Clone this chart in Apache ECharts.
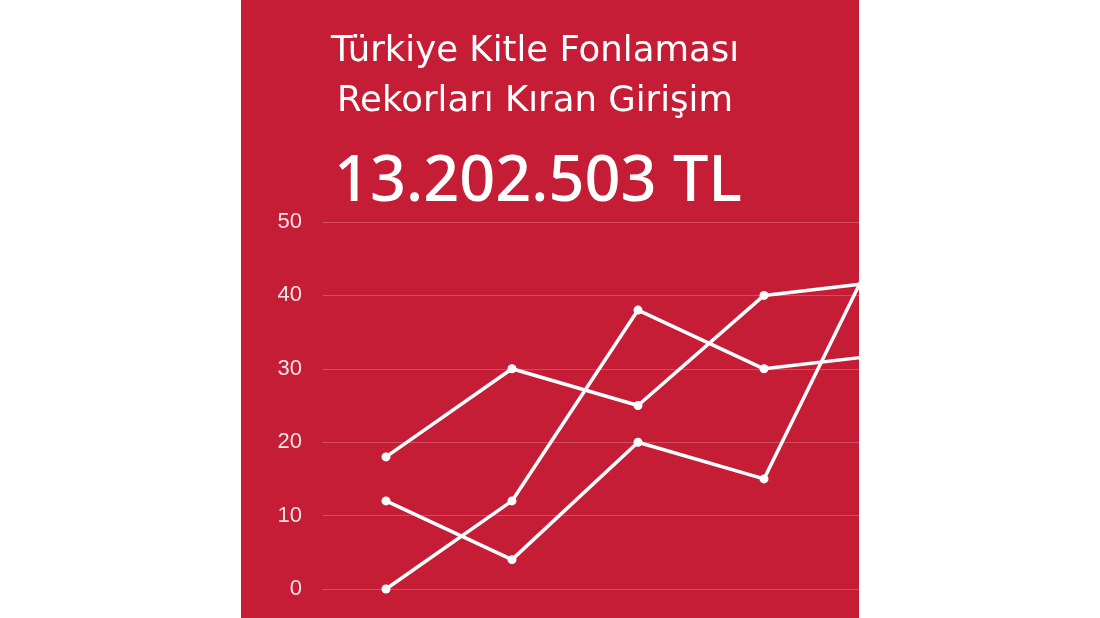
<!DOCTYPE html>
<html>
<head>
<meta charset="utf-8">
<script src="https://cdn.jsdelivr.net/npm/echarts@6/dist/echarts.min.js"></script>
<style>
  html, body { margin: 0; padding: 0; background: #ffffff; }
  #panel { position: absolute; left: 241px; top: 0; width: 618px; height: 618px;
           background: #c41d35; overflow: hidden; }
  #chart { position: absolute; left: 0; top: 0; width: 800px; height: 618px; }
</style>
</head>
<body>
<div id="panel"><div id="chart"></div></div>
<script>
// categories run past the right edge of the panel, the last one is clipped
var categories = ['1', '2', '3', '4', '5'];
var seriesA = [18, 30, 25, 40, 42];
var seriesB = [12, 4, 20, 15, 50];
var seriesC = [0, 12, 38, 30, 32];
var yTicks = { min: 0, max: 50, interval: 10 };

var titleLines = ['Türkiye Kitle Fonlaması', 'Rekorları Kıran Girişim'];
var amountText = '13.202.503 TL';

var myChart = echarts.init(document.getElementById('chart'));

function lineSeries(name, data) {
    return {
        name: name,
        type: 'line',
        data: data,
        symbol: 'circle',
        symbolSize: 9,
        lineStyle: { color: '#ffffff', width: 3.5 },
        itemStyle: { color: '#ffffff' },
        emphasis: { disabled: true },
        animation: false
    };
}

function headText(text, x, y, font) {
    return {
        type: 'text', x: x, y: y,
        style: { text: text, fill: '#ffffff', font: font, align: 'center', verticalAlign: 'middle' }
    };
}

option = {
    backgroundColor: 'transparent',
    graphic: [
        headText(titleLines[0], 294, 52, '35.5px "DejaVu Sans"'),
        headText(titleLines[1], 294, 102, '35.5px "DejaVu Sans"'),
        headText(amountText, 297, 183, '500 63px "Noto Sans"')
    ],
    grid: { left: 82, top: 222, width: 630, bottom: 29, containLabel: false },
    xAxis: {
        type: 'category',
        data: categories,
        boundaryGap: true,
        axisLine: { show: false },
        axisTick: { show: false },
        axisLabel: { show: false }
    },
    yAxis: {
        type: 'value',
        min: yTicks.min,
        max: yTicks.max,
        interval: yTicks.interval,
        axisLine: { show: false },
        axisTick: { show: false },
        axisLabel: {
            color: '#f6e4e6',
            fontSize: 22,
            fontFamily: '"Liberation Sans", Arial, sans-serif',
            margin: 21
        },
        splitLine: { lineStyle: { color: 'rgba(255,255,255,0.22)', width: 1 } }
    },
    series: [
        lineSeries('A', seriesA),
        lineSeries('B', seriesB),
        lineSeries('C', seriesC)
    ]
};

myChart.setOption(option);
</script>
</body>
</html>
